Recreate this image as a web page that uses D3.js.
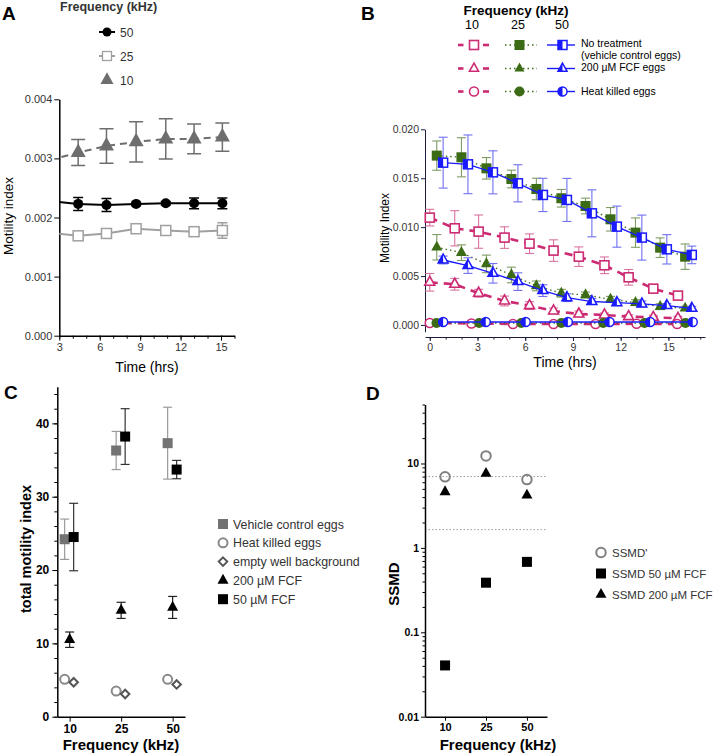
<!DOCTYPE html>
<html><head><meta charset="utf-8">
<script src="https://cdn.jsdelivr.net/npm/d3@7"></script>
<style>body{margin:0;background:#fff}svg{display:block}</style>
</head><body><svg id="fig" width="715" height="756"></svg>
<script>
// ---------------- Panel A data ----------------
const timeA = [2.3, 4.4, 6.5, 8.7, 10.9, 13.0, 15.1];
const freqA = ["50", "25", "10"];
const a50 = [0.00228, 0.00223, 0.00221, 0.00223, 0.00224, 0.00224, 0.00224];
const a50err = [0.0001, 0.00011, 0.00011, 0.00003, 0.00003, 0.00009, 0.00009];
const a25 = [0.00174, 0.00169, 0.00173, 0.00181, 0.00178, 0.00176, 0.00178];
const a25err = [0.00005, 0.00004, 0.00004, 0.00004, 0.00003, 0.00007, 0.00013];
const a10 = [0.00297, 0.00310, 0.00321, 0.00328, 0.00333, 0.00333, 0.00336];
const a10err = [0.0002, 0.00022, 0.00029, 0.00034, 0.00034, 0.00025, 0.00024];
const ticksAy = [0, 0.001, 0.002, 0.003, 0.004];
const ticksAx = [3, 6, 9, 12, 15];

// ---------------- Panel B data ----------------
const tB10 = [0, 1.57, 3.07, 4.7, 6.27, 7.78, 9.37, 10.98, 12.5, 14.05, 15.6];
const tB25 = [0.44, 1.99, 3.56, 5.13, 6.70, 8.27, 9.79, 11.36, 12.93, 14.48, 16.05];
const tB50 = [0.84, 2.40, 3.97, 5.54, 7.11, 8.62, 10.19, 11.76, 13.33, 14.9, 16.47];
const tC10 = [0, 2.62, 5.23, 7.78, 10.42, 13.0, 15.55];
const tC25 = [0.42, 3.1, 5.75, 8.27, 10.9, 13.5, 16.07];
const tC50 = [0.84, 3.52, 6.03, 8.68, 11.3, 13.85, 16.53];
const sq10 = [0.01097, 0.00988, 0.00954, 0.00893, 0.00831, 0.0076, 0.00698, 0.0061, 0.00487, 0.00371, 0.0030];
const sq10err = [0.00085, 0.0018, 0.0017, 0.0011, 0.001, 0.0011, 0.001, 0.00085, 0.0008, 0.0004, 0.0003];
const sq25 = [0.01731, 0.01714, 0.01601, 0.01492, 0.0139, 0.01295, 0.01216, 0.0108, 0.00944, 0.0079, 0.00698];
const sq25err = [0.0015, 0.002, 0.0011, 0.0009, 0.0011, 0.0009, 0.0008, 0.0012, 0.0015, 0.001, 0.0013];
const sq50 = [0.01659, 0.01642, 0.0156, 0.01448, 0.01329, 0.01278, 0.01141, 0.01005, 0.00893, 0.00773, 0.00716];
const sq50err = [0.0026, 0.003, 0.0022, 0.0019, 0.0017, 0.0022, 0.0024, 0.0021, 0.0023, 0.0015, 0.0009];
const tr10 = [0.00436, 0.00416, 0.00324, 0.00245, 0.00198, 0.00143, 0.00112, 0.00102, 0.00085, 0.00078, 0.00068];
const tr10err = [0.0009, 0.0006, 0.0004, 0.0005, 0.0004, 0.0003, 0.0003, 0.0002, 0.0002, 0.0002, 0.0002];
const tr25 = [0.00794, 0.00739, 0.00624, 0.00511, 0.00399, 0.00324, 0.00307, 0.00262, 0.00228, 0.00187, 0.0017];
const tr25err = [0.0013, 0.0008, 0.0009, 0.0008, 0.0005, 0.0004, 0.0003, 0.0003, 0.0003, 0.0003, 0.0002];
const tr50 = [0.00664, 0.00607, 0.00528, 0.00443, 0.00351, 0.00279, 0.00239, 0.00228, 0.00215, 0.00198, 0.0017];
const tr50err = [0.0004, 0.0008, 0.001, 0.0009, 0.0006, 0.0004, 0.0003, 0.0003, 0.0003, 0.0002, 0.0002];
const ci10 = [0.0002, 0.00015, 0.0001, 0.0001, 0.0001, 0.00012, 0.0001];
const ci25 = [0.0002, 0.0002, 0.0002, 0.0002, 0.0002, 0.0002, 0.0002];
const ci50 = [0.0003, 0.0003, 0.0003, 0.0003, 0.0003, 0.0003, 0.0003];
const ticksBy = [0, 0.005, 0.010, 0.015, 0.020];
const ticksBx = [0, 3, 6, 9, 12, 15];
const legendBrows = ["No treatment", "200 \u00b5M FCF eggs", "Heat killed eggs"];

// ---------------- Panel C data ----------------
const freqC = ["10", "25", "50"];
const cVehicle = [24.2, 36.3, 37.3];
const cVehicleErr = [2.75, 2.6, 4.9];
const cFcf50 = [24.5, 38.2, 33.7];
const cFcf50Err = [4.6, 3.8, 1.25];
const cFcf200 = [10.5, 14.5, 14.9];
const cFcf200Err = [1.05, 1.1, 1.5];
const cHeat = [5.1, 3.5, 5.1];
const cEmpty = [4.7, 3.1, 4.4];
const ticksCy = [0, 10, 20, 30, 40];
const legendC = ["Vehicle control eggs", "Heat killed eggs", "empty well background", "200 \u00b5M FCF", "50 \u00b5M FCF"];

// ---------------- Panel D data ----------------
const freqD = ["10", "25", "50"];
const dSsmdPrime = [6.95, 12.3, 6.45];
const dSsmd50 = [0.0405, 0.387, 0.683];
const dSsmd200 = [4.6, 7.6, 4.2];
const dThresholds = [7, 1.645];
const ticksDy = [0.01, 0.1, 1, 10];
const legendD = ["SSMD'", "SSMD 50 \u00b5M FCF", "SSMD 200 \u00b5M FCF"];

// =====================================================
const svg = d3.select('#fig');
const F = "'Liberation Sans', Arial, Helvetica, sans-serif";
const defs = svg.append('defs');

function shape(g, type, x, y, s, st) {
  let el;
  if (type === 'circle') el = g.append('circle').attr('cx', x).attr('cy', y).attr('r', s / 2);
  else if (type === 'square') el = g.append('rect').attr('x', x - s / 2).attr('y', y - s / 2).attr('width', s).attr('height', s);
  else if (type === 'triangle') { const h = s * 0.9; el = g.append('path').attr('d', `M${x},${y - 2 * h / 3}L${x + s / 2},${y + h / 3}L${x - s / 2},${y + h / 3}Z`); }
  else if (type === 'diamond') el = g.append('path').attr('d', `M${x},${y - s / 2}L${x + s / 2},${y}L${x},${y + s / 2}L${x - s / 2},${y}Z`);
  el.attr('fill', st.fill || 'none').attr('stroke', st.stroke || 'none').attr('stroke-width', st.sw || 0);
  return el;
}
function halfShape(g, type, x, y, s, color, sw) {
  shape(g, type, x, y, s, { fill: '#fff', stroke: color, sw: sw });
  let d;
  if (type === 'square') d = `M${x - s / 2},${y - s / 2}H${x}V${y + s / 2}H${x - s / 2}Z`;
  if (type === 'triangle') { const h = s * 0.9; d = `M${x},${y - 2 * h / 3}L${x},${y + h / 3}L${x - s / 2},${y + h / 3}Z`; }
  if (type === 'circle') { const r = s / 2; d = `M${x},${y - r}A${r},${r} 0 0 0 ${x},${y + r}Z`; }
  g.append('path').attr('d', d).attr('fill', color);
}
function errBar(g, x, y1, y2, color, cap, sw) {
  g.append('line').attr('x1', x).attr('x2', x).attr('y1', y1).attr('y2', y2).attr('stroke', color).attr('stroke-width', sw);
  [y1, y2].forEach(y => g.append('line').attr('x1', x - cap / 2).attr('x2', x + cap / 2).attr('y1', y).attr('y2', y).attr('stroke', color).attr('stroke-width', sw));
}
function txt(g, x, y, s, size, opts = {}) {
  const t = g.append('text').attr('x', x).attr('y', y).text(s).attr('font-family', F).attr('font-size', size)
    .attr('fill', opts.fill || '#000').attr('font-weight', opts.bold ? 'bold' : 'normal').attr('text-anchor', opts.anchor || 'start');
  if (opts.rotate) t.attr('transform', `rotate(-90,${x},${y})`);
  return t;
}
function styleAxis(sel, size, bold, color, tcol) {
  sel.selectAll('text').attr('font-family', F).attr('font-size', size).attr('font-weight', bold ? 'bold' : 'normal').attr('fill', tcol || color);
  sel.selectAll('line').attr('stroke', color);
  sel.select('.domain').attr('stroke', color);
}

// ===================== PANEL A =====================
{
  const g = svg.append('g');
  const xA = d3.scaleLinear().domain([3, 16]).range([59.3, 234.5]);
  const yA = d3.scaleLinear().domain([0, 0.004]).range([335.7, 99.3]);
  defs.append('clipPath').attr('id', 'clipA').append('rect').attr('x', 59.3).attr('y', 85).attr('width', 190).attr('height', 260);

  txt(g, 2, 20, 'A', 19, { bold: true });
  txt(g, 60, 11, 'Frequency (kHz)', 12.5, { bold: true, fill: '#333' });

  const yAx = g.append('g').attr('transform', 'translate(59.3,0)')
    .call(d3.axisLeft(yA).tickValues(ticksAy).tickFormat(d3.format('.3f')).tickSize(5).tickSizeOuter(0).tickPadding(2));
  styleAxis(yAx, 11, false, '#000', '#333');
  yAx.select('.domain').attr('stroke-width', 1.5);
  const xAx = g.append('g').attr('transform', 'translate(0,335.7)')
    .call(d3.axisBottom(xA).tickValues(ticksAx).tickSize(5).tickSizeOuter(0).tickPadding(3));
  styleAxis(xAx, 11, false, '#000', '#333');
  xAx.select('.domain').attr('stroke-width', 1.5);
  const xAm = g.append('g').attr('transform', 'translate(0,335.7)')
    .call(d3.axisBottom(xA).tickValues(d3.range(3, 17)).tickSize(3).tickFormat(''));
  xAm.select('.domain').remove(); xAm.selectAll('line').attr('stroke', '#000');

  txt(g, 147, 372, 'Time (hrs)', 14, { anchor: 'middle' });
  txt(g, 13, 216, 'Motility index', 13.5, { anchor: 'middle', rotate: true });

  const series = [
    { key: '10', vals: a10, err: a10err, color: '#6e6e6e', dash: '7,5', type: 'triangle', size: 15, fill: '#6e6e6e', cap: 14 },
    { key: '50', vals: a50, err: a50err, color: '#000', dash: null, type: 'circle', size: 10, fill: '#000', cap: 10 },
    { key: '25', vals: a25, err: a25err, color: '#a0a0a0', dash: null, type: 'square', size: 10, fill: '#fff', cap: 10 }
  ];
  const pg = g.append('g').attr('clip-path', 'url(#clipA)');
  series.forEach(s => {
    const line = d3.line().x((d, i) => xA(timeA[i])).y(d => yA(d));
    pg.append('path').datum(s.vals).attr('d', line).attr('fill', 'none').attr('stroke', s.color).attr('stroke-width', 2)
      .attr('stroke-dasharray', s.dash);
    s.vals.forEach((v, i) => errBar(pg, xA(timeA[i]), yA(v - s.err[i]), yA(v + s.err[i]), s.color, s.cap, 1.5));
    s.vals.forEach((v, i) => shape(pg, s.type, xA(timeA[i]), yA(v), s.size,
      s.type === 'square' ? { fill: '#fff', stroke: s.color, sw: 1.5 } : { fill: s.fill }));
  });

  // legend
  const leg = [
    { label: freqA[0], color: '#000', type: 'circle', size: 9, st: { fill: '#000' } },
    { label: freqA[1], color: '#a0a0a0', type: 'square', size: 9, st: { fill: '#fff', stroke: '#a0a0a0', sw: 1.3 } },
    { label: freqA[2], color: '#6e6e6e', type: 'triangle', size: 13, st: { fill: '#6e6e6e' }, noLine: true }
  ];
  leg.forEach((l, i) => {
    const y = 32 + i * 24;
    if (!l.noLine) g.append('line').attr('x1', 99).attr('x2', 115).attr('y1', y).attr('y2', y).attr('stroke', l.color).attr('stroke-width', 2);
    shape(g, l.type, 107, y, l.size, l.st);
    txt(g, 120, y + 4.5, l.label, 12, { fill: '#333' });
  });
}

// ===================== PANEL B =====================
{
  const g = svg.append('g');
  const xB = d3.scaleLinear().domain([-0.3, 17.3]).range([425, 705]);
  const yB = d3.scaleLinear().domain([-0.0007, 0.020]).range([331.8, 129.3]);
  const axc = '#1c1c40';
  txt(g, 361, 20, 'B', 19, { bold: true });

  const yAx = g.append('g').attr('transform', 'translate(425,0)')
    .call(d3.axisLeft(yB).tickValues(ticksBy).tickFormat(d3.format('.3f')).tickSize(4).tickSizeOuter(0).tickPadding(2));
  styleAxis(yAx, 10.5, false, axc, '#333');
  const xAx = g.append('g').attr('transform', 'translate(0,337)')
    .call(d3.axisBottom(xB).tickValues(ticksBx).tickSize(4).tickSizeOuter(0).tickPadding(3));
  styleAxis(xAx, 10.5, false, axc, '#333');
  const xAm = g.append('g').attr('transform', 'translate(0,337)')
    .call(d3.axisBottom(xB).tickValues(d3.range(0, 18)).tickSize(2.5).tickFormat(''));
  xAm.select('.domain').remove(); xAm.selectAll('line').attr('stroke', axc);

  txt(g, 565, 367, 'Time (hrs)', 14, { anchor: 'middle' });
  txt(g, 389, 228, 'Motility Index', 12, { anchor: 'middle', rotate: true });

  const C10 = '#cc2a72', C25 = '#3b6b14', C50 = '#1a1aff';
  const E10 = '#d9739f', E25 = '#7e9c63', E50 = '#7070f0';
  const groups = [
    { t: tB10, tc: tC10, sq: sq10, sqe: sq10err, tr: tr10, tre: tr10err, ci: ci10, color: C10, ecol: E10, kind: 'open', line: { w: 2.6, dash: '8,6' } },
    { t: tB25, tc: tC25, sq: sq25, sqe: sq25err, tr: tr25, tre: tr25err, ci: ci25, color: C25, ecol: E25, kind: 'filled', line: { w: 1.3, dash: '1.5,3' } },
    { t: tB50, tc: tC50, sq: sq50, sqe: sq50err, tr: tr50, tre: tr50err, ci: ci50, color: C50, ecol: E50, kind: 'half', line: { w: 1.4, dash: null } }
  ];
  const drawMark = (gg, type, x, y, s, grp) => {
    if (grp.kind === 'open') shape(gg, type, x, y, s, { fill: '#fff', stroke: grp.color, sw: 1.6 });
    else if (grp.kind === 'filled') shape(gg, type, x, y, s + 1, { fill: grp.color });
    else halfShape(gg, type, x, y, s, grp.color, 1.5);
  };
  groups.forEach(grp => {
    const sets = [
      { tt: grp.t, v: grp.sq, e: grp.sqe, type: 'square', s: 9 },
      { tt: grp.t, v: grp.tr, e: grp.tre, type: 'triangle', s: 10 },
      { tt: grp.tc, v: grp.ci, e: null, type: 'circle', s: 9 }
    ];
    sets.forEach(st => {
      const line = d3.line().x((d, i) => xB(st.tt[i])).y(d => yB(d));
      g.append('path').datum(st.v).attr('d', line).attr('fill', 'none').attr('stroke', grp.color)
        .attr('stroke-width', grp.line.w).attr('stroke-dasharray', grp.line.dash);
    });
    sets.forEach(st => {
      if (st.e) st.v.forEach((v, i) => errBar(g, xB(st.tt[i]), yB(v - st.e[i]), yB(v + st.e[i]), grp.ecol, 9, 1.1));
    });
    sets.forEach(st => st.v.forEach((v, i) => drawMark(g, st.type, xB(st.tt[i]), yB(v), st.s, grp)));
  });

  // legend
  txt(g, 516, 15, 'Frequency (kHz)', 13.5, { bold: true, anchor: 'middle' });
  [['10', 472], ['25', 518], ['50', 562]].forEach(d => txt(g, d[1], 29, d[0], 12.5, { anchor: 'middle' }));
  const types = ['square', 'triangle', 'circle'];
  const rowsY = [45, 68.5, 91.5];
  types.forEach((ty, r) => {
    const y = rowsY[r];
    // 10 kHz
    g.append('line').attr('x1', 458).attr('x2', 463.5).attr('y1', y).attr('y2', y).attr('stroke', C10).attr('stroke-width', 2.6);
    g.append('line').attr('x1', 483).attr('x2', 489).attr('y1', y).attr('y2', y).attr('stroke', C10).attr('stroke-width', 2.6);
    drawMark(g, ty, 474, y, 9, groups[0]);
    // 25 kHz
    g.append('line').attr('x1', 505).attr('x2', 537).attr('y1', y).attr('y2', y).attr('stroke', C25).attr('stroke-width', 1.3).attr('stroke-dasharray', '1.5,3');
    drawMark(g, ty, 519.5, y, 9, groups[1]);
    // 50 kHz
    g.append('line').attr('x1', 547).attr('x2', 575).attr('y1', y).attr('y2', y).attr('stroke', C50).attr('stroke-width', 1.4);
    drawMark(g, ty, 562.5, y, 9, groups[2]);
  });
  txt(g, 581, 46.5, legendBrows[0], 10.5);
  txt(g, 581, 58.5, '(vehicle control eggs)', 10.5);
  txt(g, 581, 71, legendBrows[1], 10.5);
  txt(g, 581, 95, legendBrows[2], 10.5);
}

// ===================== PANEL C =====================
{
  const g = svg.append('g');
  const xC = d3.scalePoint().domain(freqC).range([57.3, 185]).padding(0.24);
  const yC = d3.scaleLinear().domain([0, 45]).range([716.7, 386.7]);
  txt(g, 4, 399, 'C', 19, { bold: true });

  const yAx = g.append('g').attr('transform', 'translate(57.3,0)')
    .call(d3.axisLeft(yC).tickValues(ticksCy).tickSize(5).tickSizeOuter(0).tickPadding(3));
  styleAxis(yAx, 12, true, '#000');
  yAx.select('.domain').attr('stroke-width', 1.5);
  const yAm = g.append('g').attr('transform', 'translate(57.3,0)')
    .call(d3.axisLeft(yC).tickValues(d3.range(0, 46, 2)).tickSize(3).tickFormat(''));
  yAm.select('.domain').remove(); yAm.selectAll('line').attr('stroke', '#000');
  const xAx = g.append('g').attr('transform', 'translate(0,716.7)')
    .call(d3.axisBottom(xC).tickSize(5).tickSizeOuter(0).tickPadding(3));
  styleAxis(xAx, 12, true, '#000');
  xAx.select('.domain').attr('stroke-width', 1.5);

  txt(g, 121, 750, 'Frequency (kHz)', 15, { bold: true, anchor: 'middle' });
  txt(g, 31, 549, 'total motility index', 14.5, { bold: true, anchor: 'middle', rotate: true });

  const L = -5, R = 4;
  freqC.forEach((f, i) => {
    const x = xC(f);
    errBar(g, x + L, yC(cVehicle[i] - cVehicleErr[i]), yC(cVehicle[i] + cVehicleErr[i]), '#9a9a9a', 9, 1.2);
    errBar(g, x + R, yC(cFcf50[i] - cFcf50Err[i]), yC(cFcf50[i] + cFcf50Err[i]), '#333', 9, 1.2);
    errBar(g, x, yC(cFcf200[i] - cFcf200Err[i]), yC(cFcf200[i] + cFcf200Err[i]), '#222', 9, 1.2);
    shape(g, 'square', x + L, yC(cVehicle[i]), 10, { fill: '#737373' });
    shape(g, 'square', x + R, yC(cFcf50[i]), 10, { fill: '#000' });
    shape(g, 'triangle', x, yC(cFcf200[i]), 11, { fill: '#000' });
    shape(g, 'circle', x + L, yC(cHeat[i]), 9, { fill: 'none', stroke: '#8a8a8a', sw: 2 });
    shape(g, 'diamond', x + R, yC(cEmpty[i]), 8.5, { fill: 'none', stroke: '#555', sw: 2 });
  });

  const legSt = [
    ['square', 10, { fill: '#737373' }],
    ['circle', 9, { fill: 'none', stroke: '#8a8a8a', sw: 2 }],
    ['diamond', 8.5, { fill: 'none', stroke: '#555', sw: 2 }],
    ['triangle', 11, { fill: '#000' }],
    ['square', 10, { fill: '#000' }]
  ];
  legendC.forEach((l, i) => {
    const y = 524 + i * 18.8;
    shape(g, legSt[i][0], 223, y, legSt[i][1], legSt[i][2]);
    txt(g, 233, y + 4.5, l, 12.4, { fill: '#333' });
  });
}

// ===================== PANEL D =====================
{
  const g = svg.append('g');
  const xD = d3.scalePoint().domain(freqD).range([425, 547]).padding(0.49);
  const yD = d3.scaleLog().domain([0.01, 50]).range([716.7, 404.5]);
  txt(g, 366, 400, 'D', 19, { bold: true });

  dThresholds.forEach(v => g.append('line').attr('x1', 425).attr('x2', 547).attr('y1', yD(v)).attr('y2', yD(v))
    .attr('stroke', '#9a9a9a').attr('stroke-width', 1).attr('stroke-dasharray', '1.5,2'));

  const yAx = g.append('g').attr('transform', 'translate(425,0)')
    .call(d3.axisLeft(yD).tickValues(ticksDy).tickFormat(d => d3.format('~g')(d)).tickSize(4).tickSizeOuter(0).tickPadding(2));
  styleAxis(yAx, 10.5, true, '#000');
  yAx.select('.domain').attr('stroke-width', 1.5);
  const minor = [];
  [0.01, 0.1, 1, 10].forEach(b => { for (let k = 2; k <= 9; k++) if (b * k <= 50) minor.push(b * k); });
  const yAm = g.append('g').attr('transform', 'translate(425,0)')
    .call(d3.axisLeft(yD).tickValues(minor).tickSize(2.5).tickFormat(''));
  yAm.select('.domain').remove(); yAm.selectAll('line').attr('stroke', '#000');
  const xAx = g.append('g').attr('transform', 'translate(0,716.7)')
    .call(d3.axisBottom(xD).tickSize(4).tickSizeOuter(0).tickPadding(3));
  styleAxis(xAx, 11, true, '#000');
  xAx.select('.domain').attr('stroke-width', 1.5);

  txt(g, 498, 750, 'Frequency (kHz)', 15, { bold: true, anchor: 'middle' });
  txt(g, 399, 584, 'SSMD', 15, { bold: true, anchor: 'middle', rotate: true });

  freqD.forEach((f, i) => {
    const x = xD(f);
    shape(g, 'square', x, yD(dSsmd50[i]), 10, { fill: '#000' });
    shape(g, 'triangle', x, yD(dSsmd200[i]), 11, { fill: '#000' });
    shape(g, 'circle', x, yD(dSsmdPrime[i]), 9.5, { fill: 'none', stroke: '#808080', sw: 2 });
  });

  const legSt = [
    ['circle', 9.5, { fill: 'none', stroke: '#808080', sw: 2 }],
    ['square', 10, { fill: '#000' }],
    ['triangle', 11, { fill: '#000' }]
  ];
  legendD.forEach((l, i) => {
    const y = 552.5 + i * 21;
    shape(g, legSt[i][0], 601, y, legSt[i][1], legSt[i][2]);
    txt(g, 612, y + 4.2, l, 11.5, { fill: '#333' });
  });
}
</script></body></html>
